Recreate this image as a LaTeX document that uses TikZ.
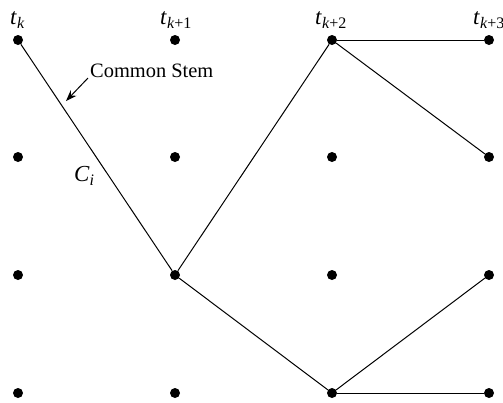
\documentclass[tikz,border=0pt]{standalone}
\usepackage{fontspec}
\setmainfont{Liberation Serif}
\usetikzlibrary{arrows.meta}
\newcommand{\tlab}[1]{\textit{t}\textsubscript{#1}}
\newcommand{\clab}[1]{\textit{C}\textsubscript{#1}}
\begin{document}
\begin{tikzpicture}[x=1bp,y=-1bp,
  pt/.style={circle,fill=black,inner sep=0pt,minimum size=10bp},
  lab/.style={font=\fontsize{20.5}{23}\selectfont,inner sep=0pt},
  tl/.style={font=\fontsize{23}{26}\selectfont,inner sep=0pt},
  edge/.style={line width=1bp},
  callout/.style={line width=1bp,-{Stealth[length=11bp,width=8bp]}}]
\useasboundingbox (0,0) rectangle (503,402);
\clip (0,0) rectangle (503,402);
\foreach \c/\x in {1/18,2/175,3/332,4/489}{
  \foreach \r/\y in {1/40,2/157,3/275,4/393}{
    \node[pt] (n\c\r) at (\x,\y) {};
  }
}
\node[tl,anchor=west] (l1) at (10,20) {\tlab{\textit{k}}};
\node[tl,anchor=west] (l2) at (160,20) {\tlab{\textit{k}+1}};
\node[tl,anchor=west] (l3) at (315,20) {\tlab{\textit{k}+2}};
\node[tl,anchor=west] (l4) at (473,20) {\tlab{\textit{k}+3}};
\draw[edge] (n11) -- (n23);
\draw[edge] (n23) -- (n31);
\draw[edge] (n23) -- (n34);
\draw[edge] (n31) -- (n41);
\draw[edge] (n31) -- (n42);
\draw[edge] (n34) -- (n43);
\draw[edge] (n34) -- (n44);
\node[lab,anchor=west] (cs) at (90,71) {Common Stem};
\coordinate (tip) at (66,101);
\draw[callout] (88,78) -- (tip);
\node[tl,anchor=west] (ci) at (74,176) {\clab{\textit{i}}};
\end{tikzpicture}
\end{document}
